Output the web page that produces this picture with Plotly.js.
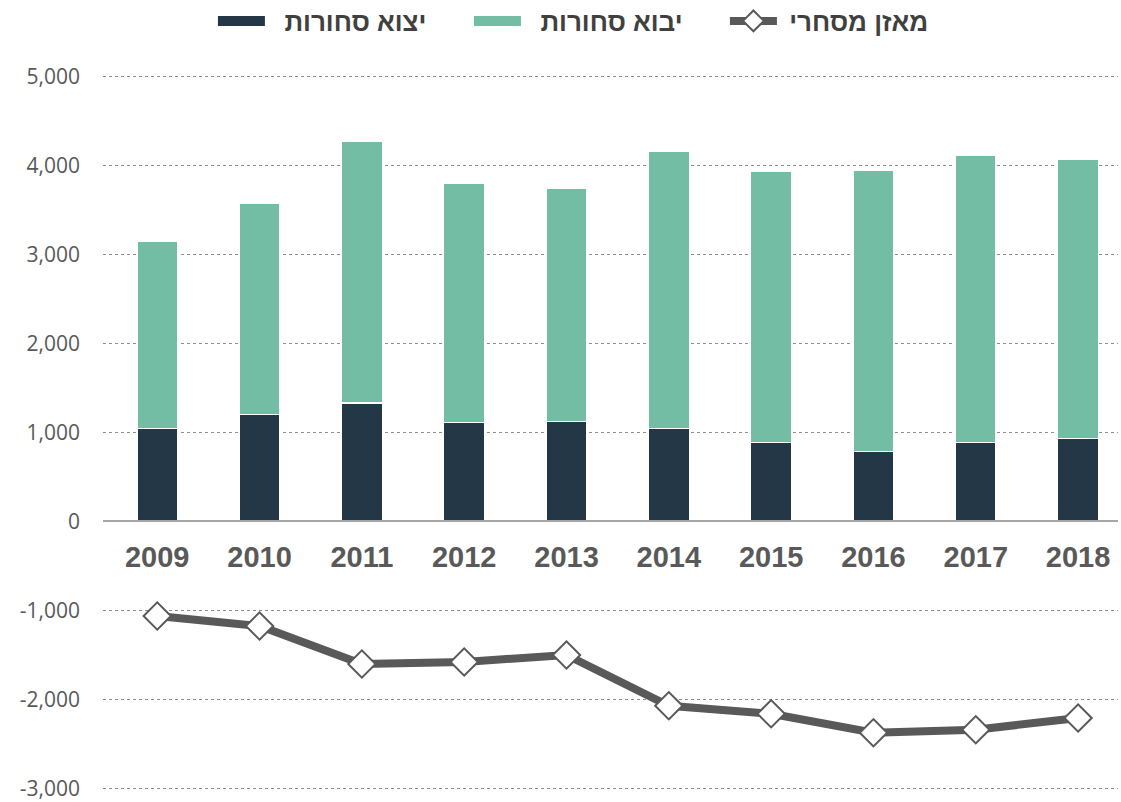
<!DOCTYPE html>
<html>
<head>
<meta charset="utf-8">
<script src="https://cdn.plot.ly/plotly-3.0.1.min.js"></script>
<style>html,body{margin:0;padding:0;background:#fff;}#chart{width:1121px;height:802px;}</style>
</head>
<body>
<div id="chart"></div>
<script>
var years = [2009, 2010, 2011, 2012, 2013, 2014, 2015, 2016, 2017, 2018];
var exportsGoods = [1043, 1200, 1334, 1110, 1121, 1043, 886, 785, 886, 930];
var importsGoods = [2107, 2376, 2937, 2690, 2623, 3116, 3049, 3161, 3228, 3140];
var tradeBalance = [-1064, -1176, -1603, -1580, -1502, -2073, -2163, -2376, -2342, -2210];
var yTickVals = [-3000, -2000, -1000, 0, 1000, 2000, 3000, 4000, 5000];
var yTickText = ['-3,000', '-2,000', '-1,000', '0', '1,000', '2,000', '3,000', '4,000', '5,000'];
var names = ['יצוא סחורות', 'יבוא סחורות', 'מאזן מסחרי'];
var colors = ['#243746', '#74BDA5', '#595959'];

var pad = '\u00a0\u00a0';
var traces = [
  {type: 'bar', x: years, y: exportsGoods, name: names[0], showlegend: false, legendgroup: 'e',
   marker: {color: colors[0], line: {color: '#ffffff', width: 1.5}}},
  {type: 'bar', x: years, y: importsGoods, name: names[1], showlegend: false, legendgroup: 'i',
   marker: {color: colors[1], line: {color: '#ffffff', width: 1.5}}},
  {type: 'scatter', mode: 'lines', x: [null], y: [null], name: pad + names[0], legendgroup: 'e',
   line: {color: colors[0], width: 14}},
  {type: 'scatter', mode: 'lines', x: [null], y: [null], name: pad + names[1], legendgroup: 'i',
   line: {color: colors[1], width: 14}},
  {type: 'scatter', mode: 'lines+markers', x: years, y: tradeBalance, name: '\u00a0' + names[2],
   line: {color: colors[2], width: 8},
   marker: {symbol: 'diamond', size: 21, color: '#ffffff', line: {color: colors[2], width: 2}}}
];

var layout = {
  width: 1121, height: 802,
  margin: {l: 103, r: 3, t: 75, b: 12},
  paper_bgcolor: '#ffffff', plot_bgcolor: '#ffffff',
  barmode: 'stack', bargap: 0.6,
  font: {family: 'Liberation Sans, Arial, sans-serif', color: '#595959'},
  showlegend: true,
  legend: {orientation: 'h', x: 0.1083, xanchor: 'left', yref: 'container', y: 0.9738, yanchor: 'middle',
           font: {size: 26, color: '#404040', family: 'Liberation Sans, Arial, sans-serif', weight: 'bold'},
           itemwidth: 47, traceorder: 'normal', entrywidth: 194, entrywidthmode: 'pixels'},
  xaxis: {
    range: [2008.47, 2018.39], tickvals: years, ticktext: years.map(String),
    anchor: 'free', position: 0.3756,
    showgrid: false, zeroline: false,
    showline: true, linecolor: '#a6a6a6', linewidth: 2,
    ticks: '', ticklabelstandoff: 10,
    tickfont: {size: 29, color: '#595959', family: 'Liberation Sans, Arial, sans-serif', weight: 'bold'}
  },
  yaxis: {
    range: [-3020, 5020], tickvals: yTickVals, ticktext: yTickText,
    showgrid: true, gridcolor: '#8c8c8c', gridwidth: 1, griddash: 'dot',
    zeroline: false, showline: false, ticks: '', ticklabelstandoff: 22, ticklabeloverflow: 'allow',
    tickfont: {size: 21, color: '#595959', family: 'Open Sans, sans-serif'}
  }
};

Plotly.newPlot('chart', traces, layout, {displayModeBar: false, staticPlot: true});
</script>
</body>
</html>
